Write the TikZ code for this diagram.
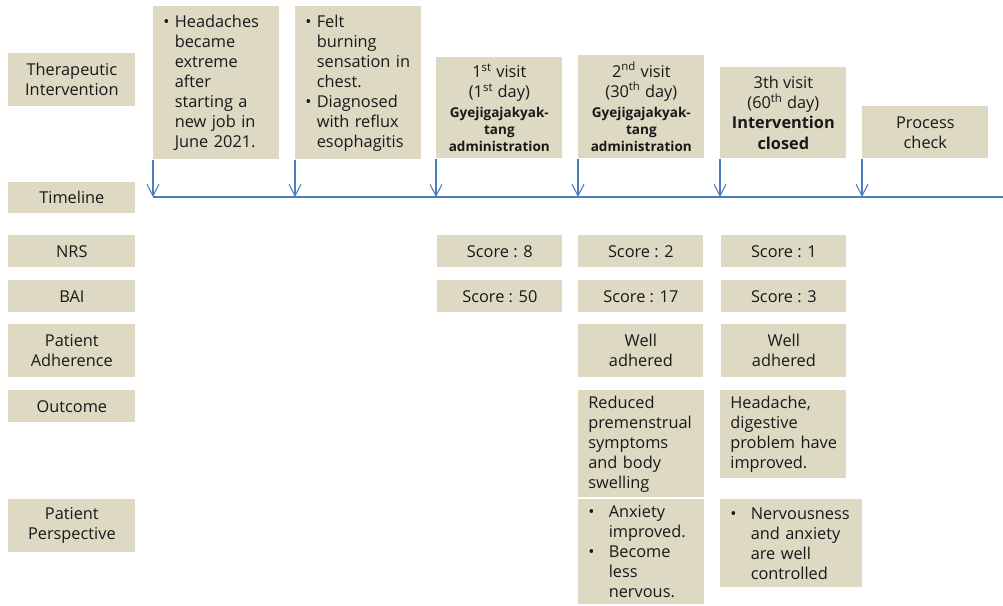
\documentclass[tikz,border=0pt]{standalone}
\usepackage{fontspec}
\setmainfont{Open Sans}
\usepackage{tikz}
\usetikzlibrary{arrows.meta}

\definecolor{cellfill}{RGB}{221,217,195}
\definecolor{lineblue}{RGB}{74,126,187}
\definecolor{txt}{RGB}{25,25,25}

\newcommand{\cellfont}{\fontsize{9.3}{11.4}\selectfont}
\newcommand{\drugfont}{\fontsize{7.7}{9.7}\selectfont\bfseries}
\newcommand{\bul}{\makebox[0.7em][l]{\textbullet}}
\newcommand{\bulind}{\hspace*{0.7em}}
\newcommand{\wbul}{\makebox[1.25em][l]{\textbullet}}
\newcommand{\wbulind}{\hspace*{1.25em}}

\begin{document}
\begin{tikzpicture}[x=0.02cm, y=-0.02cm,
    cell/.style={fill=cellfill, text=txt, font=\cellfont, inner xsep=0pt, inner ysep=0pt, anchor=north west},
    ccell/.style={cell, align=center},
    lcell/.style={cell, align=left, inner xsep=0.2cm, text width=2.12cm},
    sz/.style 2 args={minimum width=#1*0.02cm, minimum height=#2*0.02cm},
    tline/.style={draw=lineblue, line width=1.1pt},
    tick/.style={draw=lineblue, line width=0.6pt, -{Straight Barb[length=2.3mm, width=2.4mm, line width=0.6pt]}}]
  \useasboundingbox (0,0) rectangle (1003,605);

  % row labels
  \node[ccell, sz={127}{53}] (lther) at (8,53) {Therapeutic\\Intervention};
  \node[ccell, sz={127}{31}] (ltime) at (8,182) {Timeline};
  \node[ccell, sz={127}{32}] (lnrs) at (8,235) {NRS};
  \node[ccell, sz={127}{32}] (lbai) at (8,280) {BAI};
  \node[ccell, sz={127}{53}] (ladh) at (8,324) {Patient\\Adherence};
  \node[ccell, sz={127}{32}] (lout) at (8,390) {Outcome};
  \node[ccell, sz={127}{53}] (lper) at (8,499) {Patient\\Perspective};

  % events
  \node[lcell, sz={126}{153}] (ev1) at (153,6) {\bul Headaches\\ \bulind became\\ \bulind extreme\\ \bulind after\\ \bulind starting a\\ \bulind new job in\\ \bulind June 2021.};
  \node[lcell, sz={126}{153}] (ev2) at (295,6) {\bul Felt\\ \bulind burning\\ \mbox{\bulind sensation in}\\ \bulind chest.\\ \bul Diagnosed\\ \bulind with reflux\\ \bulind esophagitis};
  \node[ccell, sz={126}{101}] (ev3) at (436,57) {1\textsuperscript{st} visit\\(1\textsuperscript{st} day)\\ \drugfont Gyejigajakyak-\\[-1.7pt] \drugfont tang\\[-1.7pt] \drugfont administration};
  \node[ccell, sz={126}{103}] (ev4) at (578,55) {2\textsuperscript{nd} visit\\(30\textsuperscript{th} day)\\ \drugfont Gyejigajakyak-\\[-1.7pt] \drugfont tang\\[-1.7pt] \drugfont administration};
  \node[ccell, sz={126}{91}] (ev5) at (720,67) {3th visit\\(60\textsuperscript{th} day)\\ \textbf{Intervention}\\ \textbf{closed}};
  \node[ccell, sz={126}{52}] (ev6) at (862,106) {Process\\check};

  % timeline
  \coordinate (tl0) at (153,197);
  \coordinate (tl1) at (1003,197);
  \draw[tline] (tl0) -- (tl1);
  \foreach \ev in {ev1,ev2,ev3,ev4,ev5,ev6}
    \draw[tick] (\ev.south west) -- (\ev.south west |- tl0);

  % scores
  \node[ccell, sz={125}{32}] (nrs1) at (437,235) {Score : 8};
  \node[ccell, sz={125}{32}] (nrs2) at (578,235) {Score : 2};
  \node[ccell, sz={125}{32}] (nrs3) at (721,235) {Score : 1};
  \node[ccell, sz={125}{32}] (bai1) at (437,280) {Score : 50};
  \node[ccell, sz={125}{32}] (bai2) at (578,280) {Score : 17};
  \node[ccell, sz={125}{32}] (bai3) at (721,280) {Score : 3};
  \node[ccell, sz={125}{53}] (adh2) at (578,324) {Well\\adhered};
  \node[ccell, sz={125}{53}] (adh3) at (721,324) {Well\\adhered};

  % outcome and perspective
  \node[lcell, sz={126}{107}] (out2) at (578,390) {Reduced\\premenstrual\\symptoms\\and body\\swelling};
  \node[lcell, sz={126}{88}] (out3) at (720,390) {Headache,\\digestive\\\mbox{problem have}\\improved.};
  \node[lcell, sz={126}{105}] (per2) at (578,499) {\wbul Anxiety\\ \wbulind improved.\\ \wbul Become\\ \wbulind less\\ \wbulind nervous.};
  \node[lcell, sz={142}{88}, text width=2.44cm] (per3) at (720,499) {\wbul Nervousness\\ \wbulind and anxiety\\ \wbulind are well\\ \wbulind controlled};
\end{tikzpicture}
\end{document}
